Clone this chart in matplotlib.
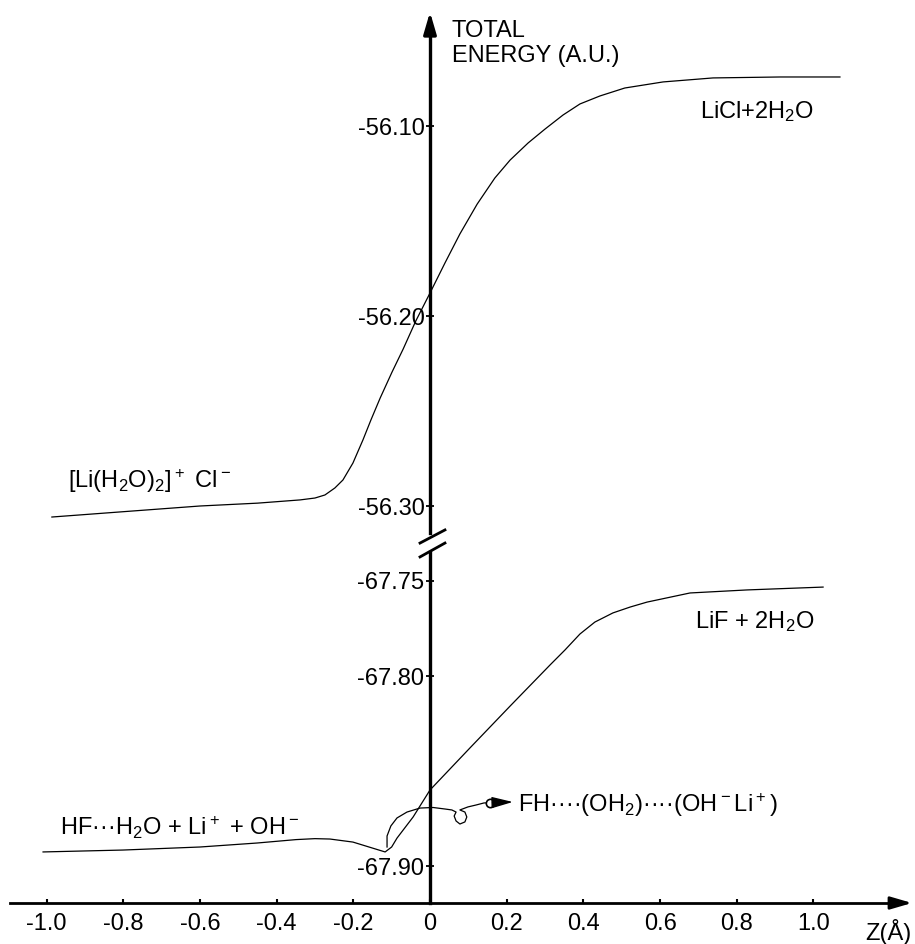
#!/usr/bin/env python3
"""
plot.py

Total energy (A.U.) along Z (Angstrom) for the Li+ / water / halide system,
drawn on a broken energy axis:
  upper part  -> [Li(H2O)2]+ Cl-   ->  LiCl + 2H2O
  lower part  -> HF...H2O + Li+ + OH-  ->  LiF + 2H2O
Writes out.png
"""

import matplotlib
matplotlib.use("Agg")
import matplotlib.pyplot as plt

OUT_PNG = "out.png"

# Upper curve (chloride)
Z_CL = [-0.986, -0.800, -0.600, -0.450, -0.339, -0.300, -0.274, -0.248, -0.227,
        -0.201, -0.175, -0.154, -0.130, -0.099, -0.070, -0.037, 0.000, 0.039,
        0.078, 0.123, 0.169, 0.209, 0.256, 0.300, 0.347, 0.391, 0.443, 0.508,
        0.608, 0.738, 0.913, 1.069]
E_CL = [-56.3058, -56.3030, -56.3000, -56.2985, -56.2968, -56.2958, -56.2942,
        -56.2905, -56.2863, -56.2774, -56.2653, -56.2547, -56.2432, -56.2295,
        -56.2174, -56.2026, -56.1879, -56.1721, -56.1568, -56.1411, -56.1274,
        -56.1179, -56.1089, -56.1016, -56.0942, -56.0884, -56.0842, -56.0800,
        -56.0768, -56.0747, -56.0742, -56.0742]

# Lower curve (fluoride)
Z_F = [-1.009, -0.801, -0.600, -0.451, -0.349, -0.300, -0.261, -0.201, -0.151,
       -0.130, -0.117, -0.100, -0.086, -0.044, 0.000, 0.104, 0.209, 0.313,
       0.352, 0.391, 0.430, 0.477, 0.522, 0.566, 0.678, 0.827, 1.025]
E_F = [-67.8926, -67.8916, -67.8900, -67.8879, -67.8861, -67.8856, -67.8858,
       -67.8874, -67.8905, -67.8918, -67.8926, -67.8900, -67.8853, -67.8742,
       -67.8600, -67.8379, -67.8158, -67.7942, -67.7863, -67.7779, -67.7716,
       -67.7668, -67.7637, -67.7611, -67.7563, -67.7547, -67.7532]

# Side branch towards FH...(OH2)...(OH- Li+), with its little loop
Z_LOOP = [-0.112, -0.112, -0.102, -0.086, -0.060, -0.026, 0.008, 0.039, 0.057,
          0.068, 0.063, 0.068, 0.078, 0.091, 0.096, 0.091, 0.078, 0.099, 0.120,
          0.141, 0.156]
E_LOOP = [-67.8900, -67.8842, -67.8789, -67.8747, -67.8716, -67.8695,
          -67.8692, -67.8700, -67.8705, -67.8716, -67.8737, -67.8763,
          -67.8779, -67.8768, -67.8742, -67.8716, -67.8705, -67.8689,
          -67.8679, -67.8668, -67.8668]

X_TICKS = [-1.0, -0.8, -0.6, -0.4, -0.2, 0.0, 0.2, 0.4, 0.6, 0.8, 1.0]
X_TICK_LABELS = ["-1.0", "-0.8", "-0.6", "-0.4", "-0.2", "0",
                 "0.2", "0.4", "0.6", "0.8", "1.0"]
Y_TICKS_TOP = [-56.10, -56.20, -56.30]
Y_TICK_LABELS_TOP = ["-56.10", "-56.20", "-56.30"]
Y_TICKS_BOT = [-67.75, -67.80, -67.90]
Y_TICK_LABELS_BOT = ["-67.75", "-67.80", "-67.90"]

plt.rcParams["font.family"] = ["Liberation Sans", "DejaVu Sans"]
plt.rcParams["mathtext.default"] = "regular"
plt.rcParams["axes.unicode_minus"] = False

FS = 17


def style_axis(ax):
    for side in ("top", "right", "bottom"):
        ax.spines[side].set_visible(False)
    ax.spines["left"].set_position(("data", 0))
    ax.spines["left"].set_linewidth(2.4)
    ax.tick_params(axis="y", direction="inout", length=6, width=1.3,
                   pad=1, labelsize=FS)
    ax.set_xlim(-1.0952, 1.2256)
    ax.patch.set_visible(False)


def main():
    fig = plt.figure(figsize=(9.15, 9.44), dpi=100)
    ax_top = fig.add_axes([0.01093, 0.43538, 0.97268, 0.53814])
    ax_bot = fig.add_axes([0.01093, 0.04343, 0.97268, 0.37182])

    style_axis(ax_top)
    style_axis(ax_bot)

    ax_top.set_ylim(-56.31421, -56.04684)
    ax_bot.set_ylim(-67.91947, -67.73474)

    ax_top.set_yticks(Y_TICKS_TOP)
    ax_top.set_yticklabels(Y_TICK_LABELS_TOP)
    ax_bot.set_yticks(Y_TICKS_BOT)
    ax_bot.set_yticklabels(Y_TICK_LABELS_BOT)

    ax_top.tick_params(axis="x", bottom=False, labelbottom=False)
    ax_bot.spines["bottom"].set_visible(True)
    ax_bot.spines["bottom"].set_linewidth(2.0)
    ax_bot.set_xticks(X_TICKS)
    ax_bot.set_xticklabels(X_TICK_LABELS)
    ax_bot.tick_params(axis="x", direction="in", length=3, width=1.5,
                       pad=7, labelsize=FS)

    # curves
    ax_top.plot(Z_CL, E_CL, color="black", lw=0.9)
    ax_bot.plot(Z_F, E_F, color="black", lw=0.9)
    ax_bot.plot(Z_LOOP, E_LOOP, color="black", lw=0.9)
    ax_bot.plot(Z_LOOP[-1], E_LOOP[-1], "o", ms=6, mfc="white", mec="black", mew=1.2)
    ax_bot.annotate("", xy=(0.216, -67.8663), xytext=(0.163, -67.8666),
                    arrowprops=dict(arrowstyle="-|>,head_length=1.3,head_width=0.35",
                                    color="black", lw=1.0, shrinkA=0, shrinkB=0))

    # axis arrows
    ax_top.annotate("", xy=(0, 1.0256), xytext=(0, 0.99),
                    xycoords=("data", "axes fraction"),
                    arrowprops=dict(arrowstyle="-|>,head_length=1.3,head_width=0.38",
                                    color="black", lw=2.4, shrinkA=0, shrinkB=0))
    ax_bot.annotate("", xy=(1.01348, 0), xytext=(0.99, 0),
                    xycoords="axes fraction",
                    arrowprops=dict(arrowstyle="-|>,head_length=1.3,head_width=0.38",
                                    color="black", lw=2.0, shrinkA=0, shrinkB=0))

    # break marks on the energy axis
    ax_top.plot([-0.026, 0.039], [-56.3195, -56.3126], color="black", lw=2, clip_on=False)
    ax_top.plot([-0.026, 0.039], [-56.3268, -56.3195], color="black", lw=2, clip_on=False)

    # labels
    dots = "\u00b7\u00b7\u00b7\u00b7"
    ax_top.text(0.057, -56.0532, "TOTAL", fontsize=FS, va="baseline")
    ax_top.text(0.057, -56.0663, "ENERGY (A.U.)", fontsize=FS, va="baseline")
    ax_top.text(0.704, -56.0958, "LiCl+2H$_2$O", fontsize=FS, va="baseline")
    ax_top.text(-0.944, -56.2905, "[Li(H$_2$O)$_2$]$^+$ Cl$^-$", fontsize=FS, va="baseline")
    ax_bot.text(0.691, -67.7747, "LiF + 2H$_2$O", fontsize=FS, va="baseline")
    ax_bot.text(-0.965, -67.8837, "HF\u00b7\u00b7\u00b7H$_2$O + Li$^+$ + OH$^-$",
                fontsize=FS, va="baseline")
    ax_bot.text(0.229, -67.8716, "FH" + dots + "(OH$_2$)" + dots + "(OH$^-$Li$^+$)",
                fontsize=FS, va="baseline")
    ax_bot.text(1.134, -67.939, "Z(Å)", fontsize=FS, va="baseline")

    fig.savefig(OUT_PNG, dpi=100)


if __name__ == "__main__":
    main()
